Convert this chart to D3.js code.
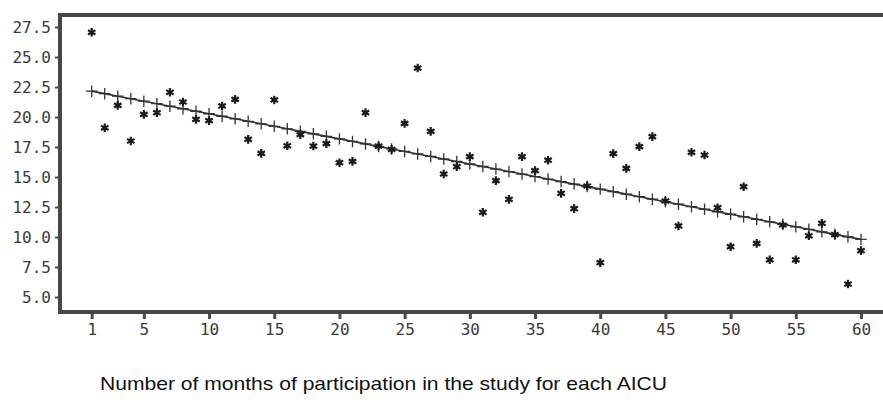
<!DOCTYPE html>
<html>
<head>
<meta charset="utf-8">
<script src="https://cdn.jsdelivr.net/npm/d3@7"></script>
<style>
  body { margin: 0; background: #fff; }
  .tick text { font-family: "DejaVu Sans Mono", monospace; font-size: 16px; fill: #3a3a3a; }
  .tick line { stroke: #4a4a4a; stroke-width: 3; }
</style>
</head>
<body>
<svg id="chart"></svg>
<script>
// months of participation and the observed value for each month
const months = d3.range(1, 61);
const scores = [
  27.06, 19.10, 20.97, 18.00, 20.22, 20.36, 22.06, 21.25, 19.80, 19.70,
  20.92, 21.47, 18.14, 16.97, 21.42, 17.60, 18.53, 17.58, 17.78, 16.19,
  16.30, 20.36, 17.58, 17.30, 19.47, 24.08, 18.80, 15.25, 15.86, 16.70,
  12.06, 14.70, 13.14, 16.70, 15.53, 16.40, 13.64, 12.36, 14.25, 7.86,
  16.95, 15.72, 17.53, 18.36, 13.00, 10.92, 17.06, 16.83, 12.44, 9.19,
  14.19, 9.47, 8.10, 11.00, 8.10, 10.10, 11.14, 10.20, 6.08, 8.86
];
const xTicks = [1, 5, 10, 15, 20, 25, 30, 35, 40, 45, 50, 55, 60];
const yTicks = [5, 7.5, 10, 12.5, 15, 17.5, 20, 22.5, 25, 27.5];
const xTitle = "Number of months of participation in the study for each AICU";

const width = 883, height = 409;
const frame = {left: 60, top: 15, bottom: 312, right: 883};

const svg = d3.select("#chart")
  .attr("width", width)
  .attr("height", height);

const x = d3.scaleLinear().domain([1, 60]).range([91.7, 861]);
const y = d3.scaleLinear().domain([5, 27.5]).range([297, 27]);

// least squares fit of the observations
const mx = d3.mean(months), my = d3.mean(scores);
const slope = d3.sum(months, (m, i) => (m - mx) * (scores[i] - my)) / d3.sum(months, m => (m - mx) ** 2);
const intercept = my - slope * mx;
const fitted = months.map(m => intercept + slope * m);

// axes
const yAxis = d3.axisLeft(y).tickValues(yTicks).tickFormat(d3.format(".1f")).tickSize(5).tickPadding(4);
const xAxis = d3.axisBottom(x).tickValues(xTicks).tickFormat(d3.format("d")).tickSize(7).tickPadding(5);

svg.append("g")
  .attr("transform", `translate(${frame.left},0)`)
  .call(yAxis)
  .call(g => g.select(".domain").remove())
  .selectAll(".tick line").style("stroke-width", 2);

svg.append("g")
  .attr("transform", `translate(0,${frame.bottom})`)
  .call(xAxis)
  .call(g => g.select(".domain").remove());

// frame (open on the right)
svg.append("path")
  .attr("d", `M${frame.right},${frame.top}H${frame.left}V${frame.bottom}H${frame.right}`)
  .attr("fill", "none")
  .attr("stroke", "#474747")
  .attr("stroke-width", 4);

// regression line with + markers
svg.append("path")
  .datum(months)
  .attr("fill", "none")
  .attr("stroke", "#333")
  .attr("stroke-width", 1.6)
  .attr("d", d3.line().x(m => x(m)).y((m, i) => y(fitted[i])));

svg.selectAll(".fit")
  .data(months)
  .join("path")
  .attr("class", "fit")
  .attr("transform", (m, i) => `translate(${x(m)},${y(fitted[i])})`)
  .attr("d", d3.symbol(d3.symbolPlus, 45))
  .attr("fill", "none")
  .attr("stroke", "#333")
  .attr("stroke-width", 1.3);

// observed points
svg.selectAll(".obs")
  .data(months)
  .join("path")
  .attr("class", "obs")
  .attr("transform", (m, i) => `translate(${x(m)},${y(scores[i])})`)
  .attr("d", d3.symbol(d3.symbolAsterisk, 52))
  .attr("fill", "none")
  .attr("stroke", "#1a1a1a")
  .attr("stroke-width", 2.2);

// axis title
svg.append("text")
  .attr("x", 100)
  .attr("y", 390)
  .attr("textLength", 567)
  .attr("lengthAdjust", "spacingAndGlyphs")
  .style("font-family", "'Liberation Sans', Arial, sans-serif")
  .style("font-size", "18.5px")
  .style("fill", "#111")
  .text(xTitle);
</script>
</body>
</html>
